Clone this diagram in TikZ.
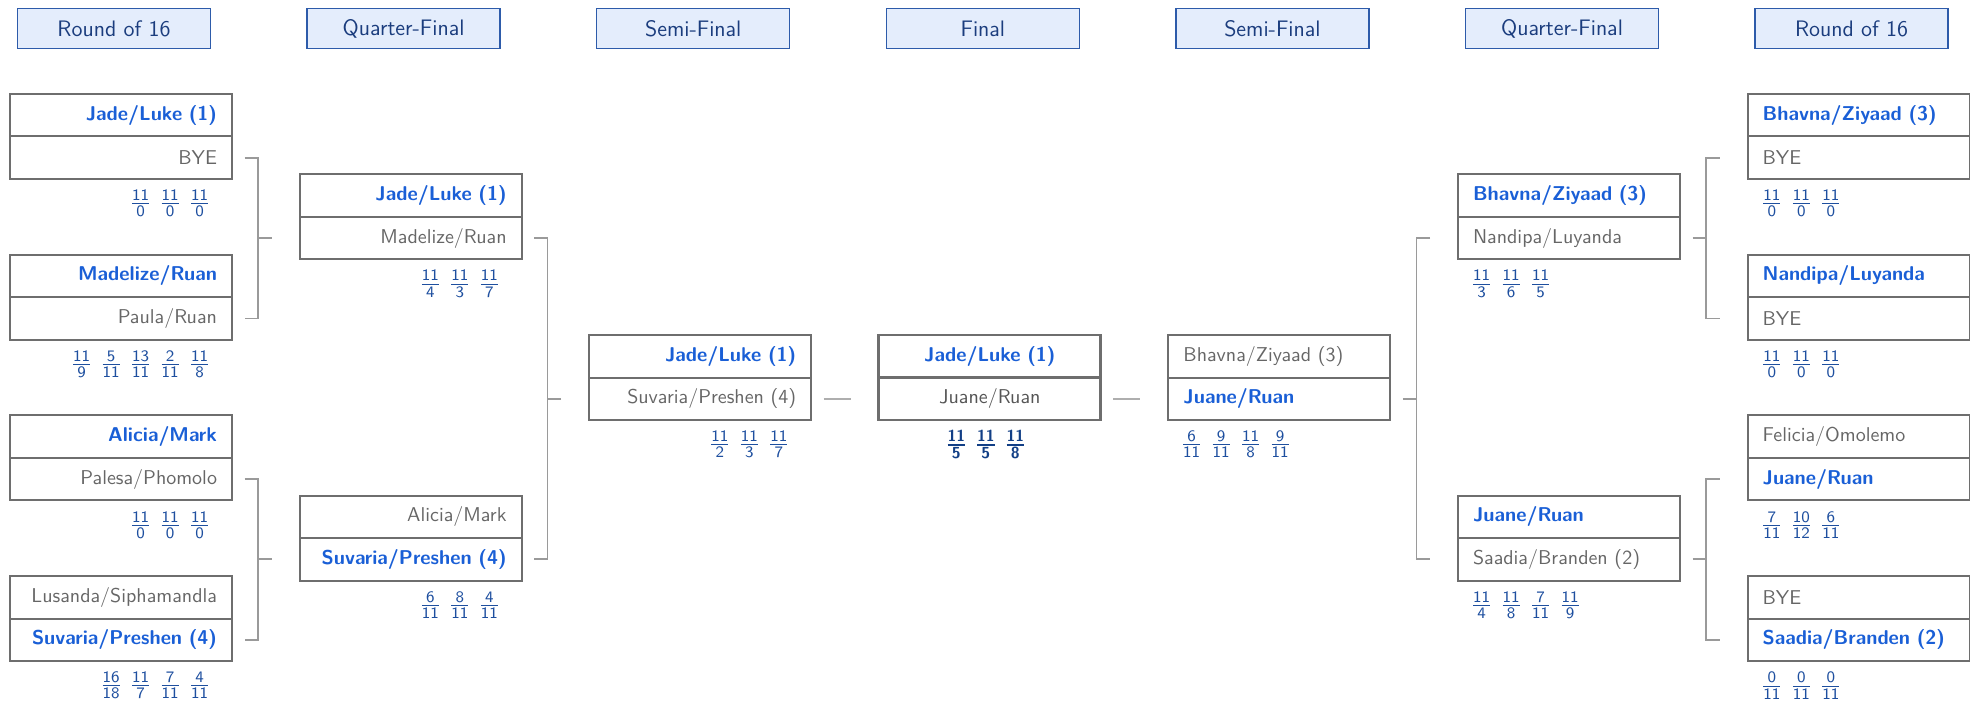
\documentclass[tikz,border=0pt]{standalone}
\usepackage{amsmath}
\usepackage{tikz}
\usetikzlibrary{positioning,calc}

\definecolor{winblue}{HTML}{1A5FD6}
\definecolor{losegray}{HTML}{666666}
\definecolor{finalgray}{HTML}{555555}
\definecolor{boxgray}{HTML}{6E6E6E}
\definecolor{linegray}{HTML}{9A9A9A}
\definecolor{scoreblue}{HTML}{1E4F9F}
\definecolor{finalblue}{HTML}{123F86}
\definecolor{headfill}{HTML}{E4EDFC}
\definecolor{headdraw}{HTML}{2D5BAA}
\definecolor{headtext}{HTML}{1B3D7E}

\newcommand{\sfr}[2]{\makebox[14.75pt]{\fontsize{10.95}{13}\selectfont$\frac{\textsf{#1}}{\textsf{#2}}$}}
\newcommand{\bfr}[2]{\makebox[14.75pt]{\fontsize{10.95}{13}\selectfont$\genfrac{}{}{0.7pt}{}{\textsf{\bfseries #1}}{\textsf{\bfseries #2}}$}}

\begin{document}
\begin{tikzpicture}[x=0.5pt,y=-0.5pt,
	head/.style={draw=headdraw,fill=headfill,line width=0.7pt,text=headtext,
		minimum width=96.5pt,minimum height=20pt,inner sep=0pt,
		font=\fontsize{11.2}{13}\selectfont\sffamily},
	row/.style={draw=boxgray,line width=1pt,minimum height=21.25pt,
		text width=96pt,inner xsep=7.5pt,inner ysep=0pt,outer sep=0pt,
		font=\sffamily},
	win/.style={text=winblue,font=\sffamily\bfseries},
	lose/.style={text=losegray},
	ralign/.style={align=right},
	lalign/.style={align=left},
	final/.style={line width=1.4pt,align=center},
	score/.style={inner sep=0pt,text=scoreblue},
	bracket/.style={draw=linegray,line width=0.8pt},
	link/.style={draw=linegray!80,line width=0.8pt}]
	\useasboundingbox (0,0) rectangle (1970,701);

	% round headers
	\node[head] (H1) at (114,28.5) {Round of 16};
	\node[head] (H2) at (403.6,28.5) {Quarter-Final};
	\node[head] (H3) at (693.2,28.5) {Semi-Final};
	\node[head] (H4) at (982.8,28.5) {Final};
	\node[head] (H5) at (1272.4,28.5) {Semi-Final};
	\node[head] (H6) at (1562,28.5) {Quarter-Final};
	\node[head] (H7) at (1851.6,28.5) {Round of 16};

	% left round of 16
	\node[row,ralign,win] (E1t) at (121,115.25) {Jade/Luke (1)};
	\node[row,ralign,lose,below=0pt of E1t] (E1b) {BYE};
	\node[row,ralign,win] (E2t) at (121,275.9) {Madelize/Ruan};
	\node[row,ralign,lose,below=0pt of E2t] (E2b) {Paula/Ruan};
	\node[row,ralign,win] (E3t) at (121,436.6) {Alicia/Mark};
	\node[row,ralign,lose,below=0pt of E3t] (E3b) {Palesa/Phomolo};
	\node[row,ralign,lose] (E4t) at (121,597.25) {Lusanda/Siphamandla};
	\node[row,ralign,win,below=0pt of E4t] (E4b) {Suvaria/Preshen (4)};

	\node[score,anchor=east] (E1s) at ([xshift=-8.6pt,yshift=-12.25pt]E1b.south east)
		{\sfr{11}{0}\sfr{11}{0}\sfr{11}{0}};
	\node[score,anchor=east] (E2s) at ([xshift=-8.6pt,yshift=-12.25pt]E2b.south east)
		{\sfr{11}{9}\sfr{5}{11}\sfr{13}{11}\sfr{2}{11}\sfr{11}{8}};
	\node[score,anchor=east] (E3s) at ([xshift=-8.6pt,yshift=-12.25pt]E3b.south east)
		{\sfr{11}{0}\sfr{11}{0}\sfr{11}{0}};
	\node[score,anchor=east] (E4s) at ([xshift=-8.6pt,yshift=-12.25pt]E4b.south east)
		{\sfr{16}{18}\sfr{11}{7}\sfr{7}{11}\sfr{4}{11}};

	% left quarter-finals
	\node[row,ralign,win] (Q1t) at (410.6,195.5) {Jade/Luke (1)};
	\node[row,ralign,lose,below=0pt of Q1t] (Q1b) {Madelize/Ruan};
	\node[row,ralign,lose] (Q2t) at (410.6,516.75) {Alicia/Mark};
	\node[row,ralign,win,below=0pt of Q2t] (Q2b) {Suvaria/Preshen (4)};

	\node[score,anchor=east] (Q1s) at ([xshift=-8.6pt,yshift=-12.25pt]Q1b.south east)
		{\sfr{11}{4}\sfr{11}{3}\sfr{11}{7}};
	\node[score,anchor=east] (Q2s) at ([xshift=-8.6pt,yshift=-12.25pt]Q2b.south east)
		{\sfr{6}{11}\sfr{8}{11}\sfr{4}{11}};

	% left semi-final
	\node[row,ralign,win] (S1t) at (700.2,356.25) {Jade/Luke (1)};
	\node[row,ralign,lose,below=0pt of S1t] (S1b) {Suvaria/Preshen (4)};
	\node[score,anchor=east] (S1s) at ([xshift=-8.6pt,yshift=-12.25pt]S1b.south east)
		{\sfr{11}{2}\sfr{11}{3}\sfr{11}{7}};

	% final
	\node[row,final,win] (Ft) at (989.8,356.25) {Jade/Luke (1)};
	\node[row,final,text=finalgray,below=0pt of Ft] (Fb) {Juane/Ruan};
	\node[score,text=finalblue] (Fs) at ([xshift=-2pt,yshift=-12.25pt]Fb.south)
		{\bfr{11}{5}\bfr{11}{5}\bfr{11}{8}};

	% right semi-final
	\node[row,lalign,lose] (S2t) at (1279.4,356.25) {Bhavna/Ziyaad (3)};
	\node[row,lalign,win,below=0pt of S2t] (S2b) {Juane/Ruan};
	\node[score,anchor=west] (S2s) at ([xshift=4pt,yshift=-12.25pt]S2b.south west)
		{\sfr{6}{11}\sfr{9}{11}\sfr{11}{8}\sfr{9}{11}};

	% right quarter-finals
	\node[row,lalign,win] (Q3t) at (1569,195.5) {Bhavna/Ziyaad (3)};
	\node[row,lalign,lose,below=0pt of Q3t] (Q3b) {Nandipa/Luyanda};
	\node[row,lalign,win] (Q4t) at (1569,516.75) {Juane/Ruan};
	\node[row,lalign,lose,below=0pt of Q4t] (Q4b) {Saadia/Branden (2)};

	\node[score,anchor=west] (Q3s) at ([xshift=4.2pt,yshift=-12.25pt]Q3b.south west)
		{\sfr{11}{3}\sfr{11}{6}\sfr{11}{5}};
	\node[score,anchor=west] (Q4s) at ([xshift=4.2pt,yshift=-12.25pt]Q4b.south west)
		{\sfr{11}{4}\sfr{11}{8}\sfr{7}{11}\sfr{11}{9}};

	% right round of 16
	\node[row,lalign,win] (E5t) at (1858.6,115.25) {Bhavna/Ziyaad (3)};
	\node[row,lalign,lose,below=0pt of E5t] (E5b) {BYE};
	\node[row,lalign,win] (E6t) at (1858.6,275.9) {Nandipa/Luyanda};
	\node[row,lalign,lose,below=0pt of E6t] (E6b) {BYE};
	\node[row,lalign,lose] (E7t) at (1858.6,436.6) {Felicia/Omolemo};
	\node[row,lalign,win,below=0pt of E7t] (E7b) {Juane/Ruan};
	\node[row,lalign,lose] (E8t) at (1858.6,597.25) {BYE};
	\node[row,lalign,win,below=0pt of E8t] (E8b) {Saadia/Branden (2)};

	\node[score,anchor=west] (E5s) at ([xshift=4.6pt,yshift=-12.25pt]E5b.south west)
		{\sfr{11}{0}\sfr{11}{0}\sfr{11}{0}};
	\node[score,anchor=west] (E6s) at ([xshift=4.6pt,yshift=-12.25pt]E6b.south west)
		{\sfr{11}{0}\sfr{11}{0}\sfr{11}{0}};
	\node[score,anchor=west] (E7s) at ([xshift=4.6pt,yshift=-12.25pt]E7b.south west)
		{\sfr{7}{11}\sfr{10}{12}\sfr{6}{11}};
	\node[score,anchor=west] (E8s) at ([xshift=4.6pt,yshift=-12.25pt]E8b.south west)
		{\sfr{0}{11}\sfr{0}{11}\sfr{0}{11}};

	% brackets, left half
	\draw[bracket] ([xshift=6.25pt]E1b.east) -| ([xshift=13pt]E2b.east) -- ([xshift=6.25pt]E2b.east);
	\draw[bracket] ([xshift=-14pt]Q1b.west) -- ++(-6.75pt,0);
	\draw[bracket] ([xshift=6.25pt]E3b.east) -| ([xshift=13pt]E4b.east) -- ([xshift=6.25pt]E4b.east);
	\draw[bracket] ([xshift=-14pt]Q2b.west) -- ++(-6.75pt,0);
	\draw[bracket] ([xshift=6.25pt]Q1b.east) -| ([xshift=13pt]Q2b.east) -- ([xshift=6.25pt]Q2b.east);
	\draw[bracket] ([xshift=-14pt]S1b.west) -- ++(-6.75pt,0);

	% links to the final
	\draw[link] ([xshift=6.25pt]S1b.east) -- ([xshift=-14pt]Fb.west);
	\draw[link] ([xshift=6.25pt]Fb.east) -- ([xshift=-14pt]S2b.west);

	% brackets, right half
	\draw[bracket] ([xshift=-14pt]Q3b.west) -| ([xshift=-20.75pt]Q4b.west) -- ([xshift=-14pt]Q4b.west);
	\draw[bracket] ([xshift=6.25pt]S2b.east) -- ++(6.75pt,0);
	\draw[bracket] ([xshift=-14pt]E5b.west) -| ([xshift=-20.75pt]E6b.west) -- ([xshift=-14pt]E6b.west);
	\draw[bracket] ([xshift=6.25pt]Q3b.east) -- ++(6.75pt,0);
	\draw[bracket] ([xshift=-14pt]E7b.west) -| ([xshift=-20.75pt]E8b.west) -- ([xshift=-14pt]E8b.west);
	\draw[bracket] ([xshift=6.25pt]Q4b.east) -- ++(6.75pt,0);
\end{tikzpicture}
\end{document}
